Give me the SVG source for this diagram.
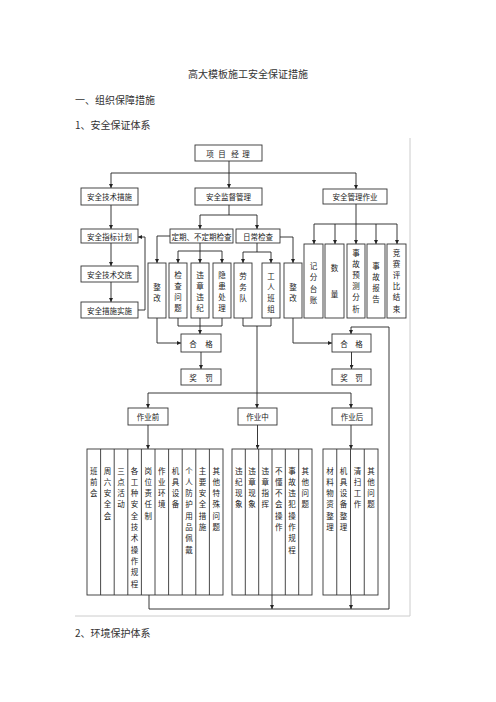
<svg xmlns="http://www.w3.org/2000/svg" width="496" height="702" viewBox="0 0 496 702">
<style>
.b{fill:#fff;stroke:#333;stroke-width:0.9}
.t{font-family:"Noto Sans CJK SC","Noto Sans",sans-serif;font-size:7.5px;fill:#222;text-anchor:middle;dominant-baseline:central}
.h{font-family:"Noto Sans CJK SC","Noto Sans",sans-serif;font-size:10px;fill:#333;dominant-baseline:central}
.c{fill:none;stroke:#222;stroke-width:0.9}
.d{fill:none;stroke:#333;stroke-width:0.9}
.pg{fill:none;stroke:#ccc;stroke-width:1}
</style>
<defs>
<marker id="ar" viewBox="0 0 6 6" refX="6" refY="3" markerWidth="4" markerHeight="4" markerUnits="userSpaceOnUse" orient="auto">
<path d="M0,0 L6,3 L0,6 z" fill="#222"/>
</marker>
</defs>
<rect width="496" height="702" fill="#fff"/>
<path class="pg" d="M410,138 V616 H75"/>
<text class="h" x="248" y="73" text-anchor="middle">高大模板施工安全保证措施</text>
<text class="h" x="75" y="99">一、组织保障措施</text>
<text class="h" x="75" y="124">1、安全保证体系</text>
<text class="h" x="75" y="632">2、环境保护体系</text>

<g id="connectors">
<path class="c" d="M229,161 V188" marker-end="url(#ar)"/>
<path class="c" d="M111,173 H356"/>
<path class="c" d="M111,173 V188" marker-end="url(#ar)"/>
<path class="c" d="M356,173 V189" marker-end="url(#ar)"/>
<path class="c" d="M111,205 V229" marker-end="url(#ar)"/>
<path class="c" d="M229,205 V215 M200,215 H257"/>
<path class="c" d="M200,215 V229" marker-end="url(#ar)"/>
<path class="c" d="M257,215 V229" marker-end="url(#ar)"/>
<path class="c" d="M356,204 V224 M314,224 H397"/>
<path class="c" d="M314,224 V244" marker-end="url(#ar)"/>
<path class="c" d="M335,224 V244" marker-end="url(#ar)"/>
<path class="c" d="M356,224 V244" marker-end="url(#ar)"/>
<path class="c" d="M376,224 V244" marker-end="url(#ar)"/>
<path class="c" d="M397,224 V244" marker-end="url(#ar)"/>
<path class="c" d="M111,243 V266" marker-end="url(#ar)"/>
<path class="c" d="M111,282 V302" marker-end="url(#ar)"/>
<path class="c" d="M138,310 H145 V237 H138" marker-end="url(#ar)"/>
<path class="c" d="M170,236 H157 V263" marker-end="url(#ar)"/>
<path class="c" d="M200,243 V251 M178,251 H222"/>
<path class="c" d="M178,251 V263" marker-end="url(#ar)"/>
<path class="c" d="M200,251 V263" marker-end="url(#ar)"/>
<path class="c" d="M222,251 V263" marker-end="url(#ar)"/>
<path class="c" d="M257,243 V252 M243,252 H271"/>
<path class="c" d="M243,252 V263" marker-end="url(#ar)"/>
<path class="c" d="M271,252 V263" marker-end="url(#ar)"/>
<path class="c" d="M280,237 H293 V263" marker-end="url(#ar)"/>
<path class="c" d="M178,318 V326 H222 V318"/>
<path class="c" d="M200,318 V334" marker-end="url(#ar)"/>
<path class="c" d="M157,318 V343 H181" marker-end="url(#ar)"/>
<path class="c" d="M243,318 V326 H271 V318"/>
<path class="c" d="M257,326 V408" marker-end="url(#ar)"/>
<path class="c" d="M293,318 V343 H332" marker-end="url(#ar)"/>
<path class="c" d="M201,352 V369" marker-end="url(#ar)"/>
<path class="c" d="M351.5,352 V369" marker-end="url(#ar)"/>
<path class="c" d="M148,393 H351"/>
<path class="c" d="M148,393 V408" marker-end="url(#ar)"/>
<path class="c" d="M351,393 V408" marker-end="url(#ar)"/>
<path class="c" d="M148,425 V449" marker-end="url(#ar)"/>
<path class="c" d="M257.5,425 V449" marker-end="url(#ar)"/>
<path class="c" d="M351,425 V449" marker-end="url(#ar)"/>
<path class="c" d="M149,595 V609 H389 V327 H351 V334" marker-end="url(#ar)"/>
<path class="c" d="M272,595 V609" marker-end="url(#ar)"/>
<path class="c" d="M351,595 V609" marker-end="url(#ar)"/>
</g>

<g id="n-xmjl"><rect class="b" x="195" y="145" width="67" height="16"/><text class="t" x="210 222 235 246" y="153">项目经理</text></g>
<g id="n-aqjscs"><rect class="b" x="81" y="188" width="57" height="17"/><text class="t" x="109.5" y="196.5">安全技术措施</text></g>
<g id="n-aqjdgl"><rect class="b" x="195" y="188" width="67" height="17"/><text class="t" x="228.5" y="196.5">安全监督管理</text></g>
<g id="n-aqglzy"><rect class="b" x="323" y="189" width="64" height="15"/><text class="t" x="355" y="196.5">安全管理作业</text></g>
<g id="n-aqzbjh"><rect class="b" x="81" y="229" width="57" height="14"/><text class="t" x="109.5" y="236">安全指标计划</text></g>
<g id="n-aqjsjd"><rect class="b" x="81" y="266" width="57" height="16"/><text class="t" x="109.5" y="274">安全技术交底</text></g>
<g id="n-aqcsss"><rect class="b" x="81" y="302" width="57" height="16"/><text class="t" x="109.5" y="310">安全措施实施</text></g>
<g id="n-dqjc"><rect class="b" x="170" y="229" width="63" height="14"/><text class="t" x="201.5" y="236">定期、不定期检查</text></g>
<g id="n-rcjc"><rect class="b" x="236" y="229" width="44" height="14"/><text class="t" x="258" y="236">日常检查</text></g>

<g id="n-zg1"><rect class="b" x="148" y="263" width="18" height="55"/><text class="t" x="157 157" y="286 297">整改</text></g>
<g id="n-jcwt"><rect class="b" x="169" y="263" width="18" height="55"/><text class="t" x="178 178 178 178" y="274 285 296 307">检查问题</text></g>
<g id="n-wzwj"><rect class="b" x="191" y="263" width="18" height="55"/><text class="t" x="200 200 200 200" y="274 285 296 307">违章违纪</text></g>
<g id="n-yhcl"><rect class="b" x="213" y="263" width="18" height="55"/><text class="t" x="222 222 222 222" y="274 285 296 307">隐患处理</text></g>
<g id="n-lwd"><rect class="b" x="234" y="263" width="18" height="55"/><text class="t" x="243 243 243" y="275 286 297">劳务队</text></g>
<g id="n-grbz"><rect class="b" x="262" y="263" width="18" height="55"/><text class="t" x="271 271 271 271" y="275 286 297 308">工人班组</text></g>
<g id="n-zg2"><rect class="b" x="284" y="263" width="18" height="55"/><text class="t" x="293 293" y="286 297">整改</text></g>

<g id="n-jftz"><rect class="b" x="304" y="244" width="19" height="74"/><text class="t" x="313.5 313.5 313.5 313.5" y="265 276.5 288 299.5">记分台账</text></g>
<g id="n-sl"><rect class="b" x="325" y="244" width="19" height="74"/><text class="t" x="334.5 334.5" y="267 293">数量</text></g>
<g id="n-sgyc"><rect class="b" x="347" y="244" width="18" height="74"/><text class="t" x="356 356 356 356 356 356" y="252 263.2 274.4 285.6 296.8 308">事故预测分析</text></g>
<g id="n-sgbg"><rect class="b" x="367" y="244" width="18" height="74"/><text class="t" x="376 376 376 376" y="265 276 287 298">事故报告</text></g>
<g id="n-jspb"><rect class="b" x="387" y="244" width="19" height="74"/><text class="t" x="396.5 396.5 396.5 396.5 396.5 396.5" y="252 263.2 274.4 285.6 296.8 308">竞赛评比结束</text></g>

<g id="n-hg1"><rect class="b" x="181" y="334" width="40" height="18"/><text class="t" x="193 209" y="343">合格</text></g>
<g id="n-jf1"><rect class="b" x="181" y="369" width="40" height="16"/><text class="t" x="193 209" y="377">奖罚</text></g>
<g id="n-hg2"><rect class="b" x="332" y="334" width="39" height="18"/><text class="t" x="344 359" y="343">合格</text></g>
<g id="n-jf2"><rect class="b" x="332" y="369" width="39" height="16"/><text class="t" x="344 359" y="377">奖罚</text></g>

<g id="n-zyq"><rect class="b" x="128" y="408" width="40" height="17"/><text class="t" x="148" y="416.5">作业前</text></g>
<g id="n-zyz"><rect class="b" x="238" y="408" width="39" height="17"/><text class="t" x="257.5" y="416.5">作业中</text></g>
<g id="n-zyh"><rect class="b" x="332" y="408" width="40" height="17"/><text class="t" x="352" y="416.5">作业后</text></g>

<g id="n-zyq-items">
<rect class="b" x="87" y="449" width="136" height="146"/>
<path class="d" d="M100.6,449 V595 M114.2,449 V595 M127.8,449 V595 M141.4,449 V595 M155,449 V595 M168.6,449 V595 M182.2,449 V595 M195.8,449 V595 M209.4,449 V595"/>
<text class="t" x="93.8 93.8 93.8" y="470 481.3 492.6">班前会</text>
<text class="t" x="107.4 107.4 107.4 107.4 107.4" y="470 481.3 492.6 503.9 515.2">周六安全会</text>
<text class="t" x="121 121 121 121" y="470 481.3 492.6 503.9">三点活动</text>
<text class="t" x="134.6 134.6 134.6 134.6 134.6 134.6 134.6 134.6 134.6 134.6 134.6" y="470 481.3 492.6 503.9 515.2 526.5 537.8 549.1 560.4 571.7 583">各工种安全技术操作规程</text>
<text class="t" x="148.2 148.2 148.2 148.2 148.2" y="470 481.3 492.6 503.9 515.2">岗位责任制</text>
<text class="t" x="161.8 161.8 161.8 161.8" y="470 481.3 492.6 503.9">作业环境</text>
<text class="t" x="175.4 175.4 175.4 175.4" y="470 481.3 492.6 503.9">机具设备</text>
<text class="t" x="189 189 189 189 189 189 189 189" y="470 481.3 492.6 503.9 515.2 526.5 537.8 549.1">个人防护用品佩戴</text>
<text class="t" x="202.6 202.6 202.6 202.6 202.6 202.6" y="470 481.3 492.6 503.9 515.2 526.5">主要安全措施</text>
<text class="t" x="216.2 216.2 216.2 216.2 216.2 216.2" y="470 481.3 492.6 503.9 515.2 526.5">其他特殊问题</text>
</g>

<g id="n-zyz-items">
<rect class="b" x="232" y="449" width="80" height="146"/>
<path class="d" d="M245.3,449 V595 M258.7,449 V595 M272,449 V595 M285.3,449 V595 M298.7,449 V595"/>
<text class="t" x="238.7 238.7 238.7 238.7" y="470 481.3 492.6 503.9">违纪现象</text>
<text class="t" x="252 252 252 252" y="470 481.3 492.6 503.9">违章现象</text>
<text class="t" x="265.3 265.3 265.3 265.3" y="470 481.3 492.6 503.9">违章指挥</text>
<text class="t" x="278.7 278.7 278.7 278.7 278.7 278.7" y="470 481.3 492.6 503.9 515.2 526.5">不懂不会操作</text>
<text class="t" x="292 292 292 292 292 292 292 292" y="470 481.3 492.6 503.9 515.2 526.5 537.8 549.1">事故违犯操作规程</text>
<text class="t" x="305.3 305.3 305.3 305.3" y="470 481.3 492.6 503.9">其他问题</text>
</g>

<g id="n-zyh-items">
<rect class="b" x="323" y="449" width="55" height="146"/>
<path class="d" d="M336.75,449 V595 M350.5,449 V595 M364.25,449 V595"/>
<text class="t" x="329.9 329.9 329.9 329.9 329.9 329.9" y="470 481.3 492.6 503.9 515.2 526.5">材料物资整理</text>
<text class="t" x="343.6 343.6 343.6 343.6 343.6 343.6" y="470 481.3 492.6 503.9 515.2 526.5">机具设备整理</text>
<text class="t" x="357.4 357.4 357.4 357.4" y="470 481.3 492.6 503.9">清扫工作</text>
<text class="t" x="371.1 371.1 371.1 371.1" y="470 481.3 492.6 503.9">其他问题</text>
</g>
</svg>
